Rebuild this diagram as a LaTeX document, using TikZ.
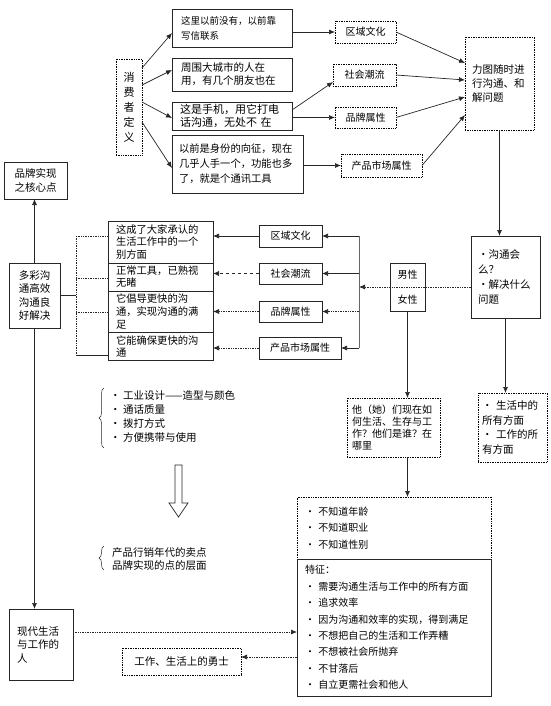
\documentclass[tikz,border=0pt]{standalone}
\usepackage{fontspec}
\setmainfont{Noto Sans CJK SC}
\usetikzlibrary{arrows.meta,decorations.pathreplacing}
\newcommand\fs[2]{\fontsize{#1}{#2}\selectfont}
% \bx[opts]{name}{x1}{y1}{x2}{y2}{pad}{text}
\newcommand\bx[8][]{%
  \pgfmathsetmacro\bxw{#5-#3}%
  \pgfmathsetmacro\bxh{#6-#4}%
  \pgfmathsetmacro\bxt{#5-#3-2*#7}%
  \node[boxst,align=left,inner xsep=#7pt,minimum width=\bxw pt,minimum height=\bxh pt,text width=\bxt pt,#1] (#2) at ({(#3+#5)/2},{(#4+#6)/2}) {#8};}
\begin{document}
\begin{tikzpicture}[x=1pt,y=-1pt,
  boxst/.style={draw=black!85, line width=0.7pt, inner ysep=0pt, outer sep=0pt},
  dotb/.style={densely dotted, draw=black},
  arr/.style={draw=black!85, line width=0.7pt, -{Latex[length=6pt,width=5pt]}},
  ln/.style={draw=black!85, line width=0.7pt},
  dl/.style={densely dotted}
  ]
\useasboundingbox (0,0) rectangle (550,706);

% top part
\bx[dotb,align=center,font={\fs{11}{15}}]{cd}{116}{59}{142}{155}{2}{消\\费\\者\\定\\义}
\bx[font={\fs{9.5}{15}}]{A}{172}{9}{292}{47}{9}{这里以前没有，以前靠\\写信联系}
\bx[font={\fs{10.5}{13}}]{B}{172}{58}{292}{91}{9}{周围大城市的人在\\用，有几个朋友也在}
\bx[font={\fs{11}{13}}]{C}{172}{102}{292}{130}{8}{这是手机，用它打电\\话沟通，无处不 在}
\bx[font={\fs{10.3}{15}}]{D}{172}{135}{303}{193}{7}{以前是身份的向征，现在\\几乎人手一个，功能也多\\了，就是个通讯工具}

\bx[dotb,align=center,font={\fs{10}{12}}]{r1}{335}{21}{396}{43}{2}{区域文化}
\bx[dotb,align=center,font={\fs{10}{12}}]{r2}{333}{64}{396}{86}{2}{社会潮流}
\bx[dotb,align=center,font={\fs{10}{12}}]{r3}{335}{107}{396}{128}{2}{品牌属性}
\bx[dotb,align=center,font={\fs{10}{12}}]{r4}{341}{154}{422}{177}{2}{产品市场属性}
\bx[dotb,font={\fs{10.5}{14}}]{goal}{465}{37}{534}{130}{7}{力图随时进\\行沟通、和\\解问题}

\bx[font={\fs{10.5}{15}}]{q}{471}{236}{540}{318}{7}{·沟通会\\么？\\·解决什么\\问题}
\bx[dotb,font={\fs{10.5}{14.5}}]{life}{478}{393}{547}{462}{4}{·~生活中的\\所有方面\\·~工作的所\\有方面}
\bx[align=center,font={\fs{10}{25}}]{gender}{390}{263}{425}{311}{2}{男性\\女性}

% middle column
\bx[align=center,font={\fs{10}{12}}]{m1}{259}{225}{322}{247}{2}{区域文化}
\bx[align=center,font={\fs{10}{12}}]{m2}{259}{263}{322}{284}{2}{社会潮流}
\bx[align=center,font={\fs{10}{12}}]{m3}{259}{301}{322}{322}{2}{品牌属性}
\bx[align=center,font={\fs{10}{12}}]{m4}{259}{337}{341}{359}{2}{产品市场属性}

% left stacked boxes
\bx[font={\fs{10.3}{12.5}}]{L1}{108}{221}{213}{263}{8}{这成了大家承认的\\生活工作中的一个\\别方面}
\bx[font={\fs{10.3}{12}}]{L2}{108}{263}{213}{291}{8}{正常工具，已熟视\\无睹}
\bx[font={\fs{10.3}{13}}]{L3}{108}{291}{213}{332}{8}{它倡导更快的沟\\通，实现沟通的满\\足}
\bx[font={\fs{10.3}{12}}]{L4}{108}{332}{213}{360}{8}{它能确保更快的沟\\通}

\bx[align=center,font={\fs{10.5}{13.5}}]{core}{4}{162}{67}{199}{2}{品牌实现\\之核心点}
\bx[align=center,font={\fs{10.5}{13.5}}]{dc}{9}{263}{60}{328}{2}{多彩沟\\通高效\\沟通良\\好解决}
\bx[font={\fs{10.5}{13.5}}]{modern}{9}{609}{73}{680}{8}{现代生活\\与工作的\\人}
\bx[dotb,align=center,font={\fs{10.5}{13}}]{hero}{122}{648}{241}{675}{2}{工作、生活上的勇士}

\bx[dotb,font={\fs{10}{12}}]{who}{347}{398}{440}{457}{5}{他（她）们现在如\\何生活、生存与工\\作？他们是谁？在\\哪里}
\bx[dotb,font={\fs{10}{16.5}}]{T}{297}{497}{491}{559}{8}{·~不知道年龄\\·~不知道职业\\·~不知道性别}
\bx[font={\fs{10}{16.4}}]{F}{297}{559}{491}{696}{8}{特征：\\·~需要沟通生活与工作中的所有方面\\·~追求效率\\·~因为沟通和效率的实现，得到满足\\·~不想把自己的生活和工作弄糟\\·~不想被社会所抛弃\\·~不甘落后\\·~自立更需社会和他人}

% lists with braces
\node[font={\fs{10.5}{14.3}}, align=left, anchor=west, inner sep=0pt] (list1) at (110,416.5) {·~工业设计——造型与颜色\\·~通话质量\\·~拨打方式\\·~方便携带与使用};
\draw[ln, line width=0.5pt, decorate, decoration={brace, amplitude=5pt}] (104,448) -- (104,388);
\node[font={\fs{10.5}{12.5}}, align=left, anchor=west, inner sep=0pt] (list2) at (112,559) {产品行销年代的卖点\\品牌实现的点的层面};
\draw[ln, line width=0.5pt, decorate, decoration={brace, amplitude=5pt}] (104,570) -- (104,546);

% hollow arrow
\draw[ln, fill=white] (175,465) -- (182,465) -- (182,503) -- (188,503) -- (178.5,517) -- (169,503) -- (175,503) -- cycle;

% connectors top
\draw[arr] (cd.east |- 0,68) -- (A.west |- 0,33);
\draw[arr] (cd.east |- 0,85) -- (B.west |- 0,70);
\draw[arr] (cd.east |- 0,102) -- (C.west |- 0,118);
\draw[arr] (cd.east |- 0,122) -- (D.west |- 0,168);
\draw[arr] (A.east |- r1.west) -- (r1.west);
\draw[arr] (C.east |- 0,110) -- (r2.west |- 0,82);
\draw[arr] (C.east |- r3.west) -- (r3.west);
\draw[arr] (D.east |- r4.west) -- (r4.west);
\draw[arr] (r1.east) -- (goal.west |- 0,63);
\draw[arr] (r2.east) -- (goal.west |- 0,80);
\draw[arr] (r3.east) -- (goal.west |- 0,97);
\draw[arr] (r4.east) -- (goal.west |- 0,115);
\draw[arr] (goal.south) -- (goal.south |- q.north);
\draw[arr] (q.south) -- (q.south |- life.north);

% bracket right
\coordinate (brk) at (359,287);
\coordinate (bt) at (359,236);
\coordinate (bb) at (359,348);
\draw[arr, dl] (q.west |- brk) -- (brk);
\draw[ln, draw=black!60] (bt) -- (bb);
\draw[arr] (bt) -- (m1.east);
\draw[arr] (bt |- m2.east) -- (m2.east);
\draw[arr, dl] (bt |- m3.east) -- (m3.east);
\draw[arr] (bb) -- (m4.east);
\draw[arr] (m1.west) -- (m1.west -| L1.east);
\draw[arr, dashed] (m2.west) -- (m2.west -| L2.east);
\draw[arr, dl] (m3.west) -- (m3.west -| L3.east);
\draw[arr, dl] (m4.west) -- (m4.west -| L4.east);

% bracket left
\coordinate (lt) at (76,236);
\coordinate (lb) at (76,355);
\draw[ln, dl] (lt) -- (lb);
\draw[ln, dl] (lt) -- (lt -| L1.west);
\draw[ln, dl] (lt |- 0,278) -- (L2.west |- 0,278);
\draw[ln, dl] (lt |- 0,312) -- (L3.west |- 0,312);
\draw[ln] (lb) -- (lb -| L4.west);
\draw[ln] (dc.east) -- (dc.east -| lt);

% left column
\draw[arr] (dc.north) -- (dc.north |- core.south);
\draw[arr] (dc.south) -- (dc.south |- modern.north);
\draw[arr, dl] (modern.east |- 0,632) -- (F.west |- 0,632);
\draw[arr, dl] (F.west |- 0,657) -- (hero.east |- 0,657);

% gender / who
\draw[arr] (gender.south) -- (gender.south |- who.north);
\draw[arr] (gender.south |- who.south) -- (gender.south |- T.north);
\end{tikzpicture}
\end{document}
